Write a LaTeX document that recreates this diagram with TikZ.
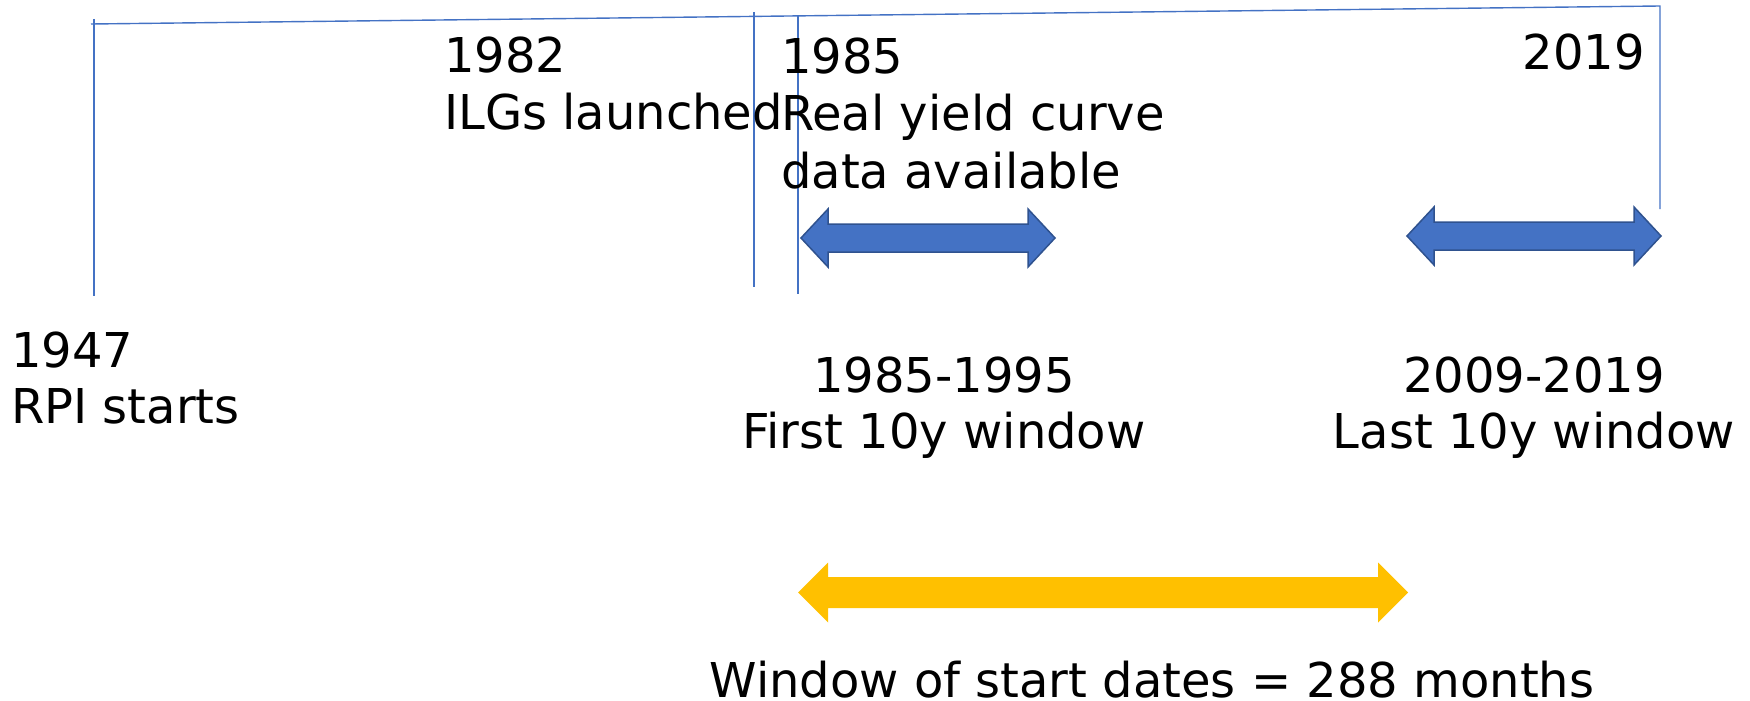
\documentclass[tikz,border=0pt]{standalone}
\usepackage{fontspec}
\setmainfont{DejaVu Sans}
\definecolor{lineblue}{HTML}{4472C4}
\definecolor{arrowblue}{HTML}{4472C4}
\definecolor{arrowedge}{HTML}{2F528F}
\definecolor{gold}{HTML}{FFC000}
\tikzset{
  tline/.style={draw=lineblue, line width=1.4pt},
  lbl/.style={inner sep=0pt, font=\fontsize{48}{57}\selectfont},
  bluearrow/.style={draw=arrowedge, fill=arrowblue, line width=1.5pt, line join=miter},
  goldarrow/.style={fill=gold, draw=none}
}
% #1 left tip x, #2 right tip x, #3 centre y, #4 shaft half, #5 head half, #6 head length
\newcommand{\dblarrowpath}[6]{%
  (#1,#3) -- (#1+#6,#3-#5) -- (#1+#6,#3-#4) -- (#2-#6,#3-#4) -- (#2-#6,#3-#5)
  -- (#2,#3) -- (#2-#6,#3+#5) -- (#2-#6,#3+#4) -- (#1+#6,#3+#4) -- (#1+#6,#3+#5) -- cycle}
\begin{document}
\begin{tikzpicture}[x=1pt,y=-1pt]
\useasboundingbox (0,0) rectangle (1750,701);
% timeline lines
\coordinate (tl0) at (91,24);
\coordinate (tl1) at (1660,6);
\coordinate (tl2) at (1660,209);
\coordinate (a0) at (94,19);   \coordinate (a1) at (94,296);
\coordinate (b0) at (754,12);  \coordinate (b1) at (754,287);
\coordinate (c0) at (798,16);  \coordinate (c1) at (798,294);
\draw[tline] (tl0) -- (tl1) -- (tl2);
\draw[tline] (a0) -- (a1);
\draw[tline] (b0) -- (b1);
\draw[tline] (c0) -- (c1);
% arrows
\path[bluearrow] \dblarrowpath{801}{1055}{238}{14}{29}{27};
\path[bluearrow] \dblarrowpath{1407}{1661}{236}{14}{29}{27};
\path[goldarrow] \dblarrowpath{798}{1408}{592.5}{15.5}{30}{30};
% labels
\node[lbl, anchor=base west] (l1947) at (11,367) {1947};
\node[lbl, anchor=base west] (lrpi) at (11,423) {RPI starts};
\node[lbl, anchor=base west] (l1982) at (444,72) {1982};
\node[lbl, anchor=base west] (lilg) at (444,129) {ILGs launched};
\node[lbl, anchor=base west] (l1985) at (781,74) {1985};
\node[lbl, anchor=base west] (lreal) at (781,130) {Real yield curve};
\node[lbl, anchor=base west] (ldata) at (781,188) {data available};
\node[lbl, anchor=base east] (l2019) at (1645,70) {2019};
\node[lbl, anchor=base] (lfirsty) at (944,392) {1985-1995};
\node[lbl, anchor=base] (lfirst) at (944,448) {First 10y window};
\node[lbl, anchor=base] (llasty) at (1534,392) {2009-2019};
\node[lbl, anchor=base] (llast) at (1534,448) {Last 10y window};
\node[lbl, anchor=base] (lwin) at (1152,697) {Window of start dates = 288 months};
\end{tikzpicture}
\end{document}
